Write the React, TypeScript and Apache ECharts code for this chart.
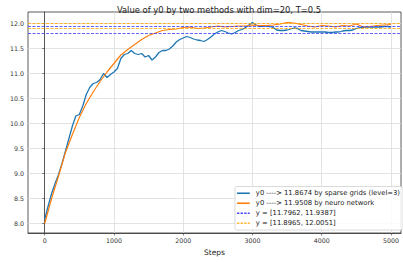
import React, { useEffect, useRef } from "react";
import * as echarts from "echarts";

const blueSteps = [
  0, 50, 100, 150, 200, 250, 300, 350, 400, 450, 500, 550, 600, 650, 700, 750, 800, 850, 900, 950,
  1000, 1050, 1100, 1150, 1200, 1250, 1300, 1350, 1400, 1450, 1500, 1550, 1600, 1650, 1700, 1750, 1800, 1850, 1900, 1950,
  2000, 2050, 2100, 2150, 2200, 2250, 2300, 2350, 2400, 2450, 2500, 2550, 2600, 2650, 2700, 2750, 2800, 2850, 2900, 2950,
  3000, 3050, 3100, 3150, 3200, 3250, 3300, 3350, 3400, 3450, 3500, 3550, 3600, 3650, 3700, 3750, 3800, 3850, 3900, 3950,
  4000, 4050, 4100, 4150, 4200, 4250, 4300, 4350, 4400, 4450, 4500, 4550, 4600, 4650, 4700, 4750, 4800, 4850, 4900, 4950, 4999,
];
const blueValues = [
  8.08, 8.35, 8.6, 8.8, 8.98, 9.2, 9.45, 9.7, 9.95, 10.15, 10.18, 10.35, 10.58, 10.72, 10.8, 10.82, 10.88, 11.0, 10.92, 10.98,
  11.03, 11.1, 11.3, 11.38, 11.4, 11.46, 11.4, 11.38, 11.4, 11.33, 11.36, 11.27, 11.33, 11.42, 11.46, 11.46, 11.49, 11.55, 11.63, 11.68,
  11.71, 11.74, 11.72, 11.69, 11.67, 11.66, 11.64, 11.68, 11.73, 11.79, 11.83, 11.86, 11.84, 11.81, 11.79, 11.82, 11.86, 11.88, 11.92, 11.97,
  12.02, 11.97, 11.94, 11.95, 11.95, 11.94, 11.92, 11.87, 11.86, 11.86, 11.87, 11.89, 11.91, 11.9, 11.86, 11.85, 11.84, 11.83, 11.83, 11.83,
  11.83, 11.83, 11.82, 11.82, 11.83, 11.83, 11.85, 11.86, 11.86, 11.87, 11.9, 11.92, 11.92, 11.93, 11.93, 11.93, 11.93, 11.93, 11.94, 11.94, 11.93,
];

const orangeSteps = [
  0, 100, 200, 300, 400, 500, 600, 700, 800, 900, 1000, 1100, 1200, 1300, 1400, 1500, 1600, 1700, 1800, 1900,
  2000, 2100, 2200, 2300, 2400, 2500, 2600, 2700, 2800, 2900, 3000, 3100, 3200, 3300, 3400, 3500, 3600, 3700, 3800, 3900,
  4000, 4100, 4200, 4300, 4400, 4500, 4600, 4700, 4800, 4900, 4999,
];
const orangeValues = [
  8.0, 8.5, 8.95, 9.42, 9.78, 10.12, 10.4, 10.63, 10.84, 11.03, 11.2, 11.37, 11.48, 11.58, 11.68, 11.76, 11.81, 11.86, 11.88, 11.89,
  11.92, 11.93, 11.9, 11.91, 11.93, 11.95, 11.93, 11.94, 11.95, 11.95, 11.97, 11.96, 11.96, 11.97, 11.99, 12.02, 12.01, 11.98, 11.95, 11.93,
  11.96, 11.95, 11.93, 11.96, 11.95, 11.99, 11.93, 11.94, 11.96, 11.97, 11.98,
];

const blueBounds = [11.7962, 11.9387];
const orangeBounds = [11.8965, 12.0051];

const xTicks = [0, 1000, 2000, 3000, 4000, 5000];
const yTicks = [8.0, 8.5, 9.0, 9.5, 10.0, 10.5, 11.0, 11.5, 12.0];

const seriesNames = [
  "y0 ----> 11.8674 by sparse grids (level=3)",
  "y0 ----> 11.9508 by neuro network",
  "y = [11.7962, 11.9387]",
  "y = [11.8965, 12.0051]",
];

const titleText = "Value of y0 by two methods with dim=20, T=0.5";
const xLabel = "Steps";

const FONT = "DejaVu Sans";
const SOLID_ICON = "path://M0,0h16v2h-16z";
const DASH_ICON = "path://M0,0h3v2h-3zM4.5,0h3v2h-3zM9,0h3v2h-3zM13.5,0h2.5v2h-2.5z";

export default function App() {
  const ref = useRef<HTMLDivElement>(null);
  useEffect(() => {
    if (!ref.current) return;
    const chart = echarts.init(ref.current, undefined, { renderer: "svg" });
    const dash = [3, 1.5];
    chart.setOption({
      animation: false,
      backgroundColor: "#ffffff",
      title: {
        text: titleText,
        left: 214,
        textAlign: "center",
        top: 1,
        textStyle: { fontFamily: FONT, fontSize: 8.4, fontWeight: "normal", color: "#222" },
      },
      grid: {
        left: 28,
        right: 2,
        top: 12,
        bottom: 29,
        show: true,
        borderColor: "#333",
        borderWidth: 0.8,
      },
      legend: {
        orient: "vertical",
        right: 0,
        bottom: 32,
        itemWidth: 15,
        itemHeight: 1.6,
        itemGap: 2.5,
        padding: [3, 3, 3, 2],
        backgroundColor: "rgba(255,255,255,0.85)",
        borderColor: "#d0d0d0",
        borderWidth: 0.8,
        borderRadius: 2,
        textStyle: { fontFamily: FONT, fontSize: 6.8, color: "#222", lineHeight: 7.5 },
        data: seriesNames.map((n, i) => ({ name: n, icon: i < 2 ? SOLID_ICON : DASH_ICON })),
      },
      xAxis: {
        type: "value",
        min: -241,
        max: 5145,
        name: xLabel,
        nameLocation: "middle",
        nameGap: 15,
        nameTextStyle: { fontFamily: FONT, fontSize: 7.5, color: "#222" },
        axisLine: { show: true, lineStyle: { color: "#333", width: 0.8 } },
        axisTick: { show: true, length: 2.5, customValues: xTicks, lineStyle: { color: "#333", width: 0.6 } },
        axisLabel: {
          fontFamily: FONT,
          fontSize: 6.3,
          color: "#333",
          margin: 4,
          customValues: xTicks,
          formatter: (v: number) => String(v),
        },
        splitLine: { show: true, lineStyle: { color: "#dcdcdc", width: 0.8 } },
      },
      yAxis: {
        type: "value",
        min: 7.81,
        max: 12.23,
        axisLine: { show: true, lineStyle: { color: "#333", width: 0.8 } },
        axisTick: { show: true, length: 2.5, customValues: yTicks, lineStyle: { color: "#333", width: 0.6 } },
        axisLabel: {
          fontFamily: FONT,
          fontSize: 6.3,
          color: "#333",
          margin: 4,
          customValues: yTicks,
          formatter: (v: number) => v.toFixed(1),
        },
        splitLine: { show: true, lineStyle: { color: "#dcdcdc", width: 0.8 } },
      },
      series: [
        {
          name: seriesNames[0],
          type: "line",
          showSymbol: false,
          symbol: "none",
          data: blueSteps.map((s, i) => [s, blueValues[i]]),
          lineStyle: { color: "#1f77b4", width: 1.3 },
          itemStyle: { color: "#1f77b4" },
          z: 3,
        },
        {
          name: seriesNames[1],
          type: "line",
          showSymbol: false,
          symbol: "none",
          data: orangeSteps.map((s, i) => [s, orangeValues[i]]),
          lineStyle: { color: "#ff7f0e", width: 1.2 },
          itemStyle: { color: "#ff7f0e" },
          z: 4,
        },
        {
          name: seriesNames[2],
          type: "line",
          symbol: "none",
          data: [],
          lineStyle: { color: "#3a3aff", width: 0.8, type: dash },
          itemStyle: { color: "#4a4aff" },
          markLine: {
            silent: true,
            symbol: "none",
            label: { show: false },
            lineStyle: { color: "#3a3aff", width: 0.8, type: dash },
            data: blueBounds.map((b) => ({ yAxis: b })),
          },
        },
        {
          name: seriesNames[3],
          type: "line",
          symbol: "none",
          data: [],
          lineStyle: { color: "#ffa500", width: 0.8, type: dash },
          itemStyle: { color: "#ffb733" },
          markLine: {
            silent: true,
            symbol: "none",
            label: { show: false },
            lineStyle: { color: "#ffa500", width: 0.8, type: dash },
            data: orangeBounds.map((b) => ({ yAxis: b })),
          },
        },
      ],
    });
    return () => chart.dispose();
  }, []);
  return <div ref={ref} style={{ width: 403, height: 262, position: "absolute", left: 0, top: 0 }} />;
}
